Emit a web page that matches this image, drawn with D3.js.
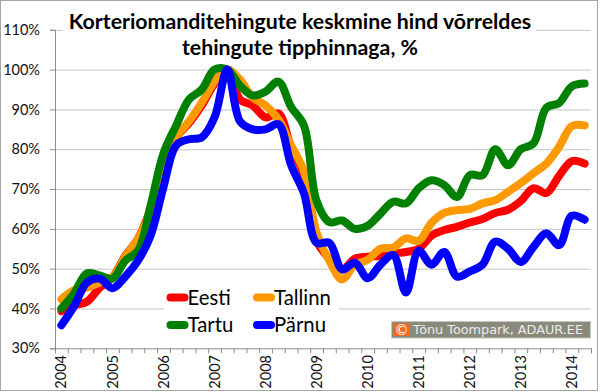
<!DOCTYPE html>
<html>
<head>
<meta charset="utf-8">
<script src="https://cdn.jsdelivr.net/npm/d3@7"></script>
<style>
 body { margin: 0; background: #fff; }
 text { font-family: Lato, "Noto Sans", sans-serif; }
</style>
</head>
<body>
<script>
const width = 600;
const height = 392;

// quarterly data, 2004 I ... 2014 II
const years = [2004, 2005, 2006, 2007, 2008, 2009, 2010, 2011, 2012, 2013, 2014];
const quarters = years.flatMap(y => [1, 2, 3, 4].map(q => y + "-" + q)).slice(0, 42);
const yTicks = [30, 40, 50, 60, 70, 80, 90, 100, 110];

const eesti = [39.3, 40.8, 41.7, 45.2, 47.8, 53.2, 57.5, 65, 75.5, 83, 86.5, 91, 96.5, 100,
 92.5, 91, 88, 89, 80.5, 73.5, 57, 52.5, 49.8, 52.5, 53, 53.2, 53.8, 54.2, 55, 58.3,
 59.7, 60.5, 61.6, 62.5, 64, 64.8, 67, 70.2, 69, 73.3, 77, 76.4];
const tallinn = [42.3, 44.6, 45.2, 46.5, 47.9, 53, 57.5, 64.5, 75.5, 83, 87, 91.7, 97, 100,
 97.5, 93, 91, 87.5, 81, 74.5, 59, 52, 47.3, 51, 52.2, 55, 55.3, 57.6, 57, 61.5,
 64, 64.7, 65, 66.4, 67.2, 69.3, 71.5, 74, 76.4, 80.6, 85.8, 86];
const tartu = [40, 43.8, 48.8, 48.3, 47.5, 52, 54.5, 66, 79, 86, 92.5, 95, 100, 100,
 96, 93.5, 94.5, 97, 90.6, 86, 67, 61.7, 62.1, 60, 60.8, 63.8, 66.8, 66.4, 70.2, 72.2,
 71, 68, 73.5, 73.5, 80, 76, 80, 81.5, 90.4, 91.6, 95.8, 96.5];
const parnu = [35.8, 40.6, 46.5, 47.5, 45.1, 48, 52, 58.4, 70.5, 81, 82.5, 83, 88, 100,
 87, 85, 85, 86.3, 76, 69, 56.5, 56.5, 49.8, 51.5, 47.6, 51, 53.4, 44, 54.5, 51,
 54.2, 48, 49.3, 51, 56.8, 55, 51.7, 55.5, 58.9, 55.9, 63.3, 62.3];

const seriesNames = ["Eesti", "Tallinn", "Tartu", "Pärnu"];
const seriesColors = ["#ff0000", "#ff9900", "#008000", "#0000ff"];
const seriesValues = [eesti, tallinn, tartu, parnu];

const plotLeft = 55, plotRight = 591, plotTop = 29.8, plotBottom = 348.3;

const svg = d3.select("body").append("svg")
  .attr("width", width)
  .attr("height", height);

svg.append("rect")
  .attr("x", 0.5).attr("y", 0.5)
  .attr("width", 597).attr("height", 390)
  .attr("fill", "#fff")
  .attr("stroke", "#a6a6a6");

const x = d3.scaleBand().domain(quarters).range([plotLeft, plotRight]);
const xIdx = d3.scaleLinear().domain([0, quarters.length]).range([plotLeft, plotRight]);
const y = d3.scaleLinear().domain([30, 110]).range([plotBottom, plotTop]);

// gridlines
svg.append("g")
  .attr("transform", `translate(${plotLeft},0)`)
  .call(d3.axisLeft(y).tickValues(yTicks.slice(1)).tickSize(-(plotRight - plotLeft)).tickFormat(""))
  .call(g => g.select(".domain").remove())
  .call(g => g.selectAll("line").attr("stroke", "#c4c4c4"));

// y axis
svg.append("g")
  .attr("transform", `translate(${plotLeft},0)`)
  .call(d3.axisLeft(y).tickValues(yTicks).tickSize(5).tickPadding(10).tickFormat(d => d + "%"))
  .call(g => g.select(".domain").attr("stroke", "#8c8c8c"))
  .call(g => g.selectAll("line").attr("stroke", "#8c8c8c"))
  .call(g => g.selectAll("text").attr("font-size", 14.5).attr("fill", "#111")
    .style("font-family", "Lato"));

// x axis
svg.append("g")
  .attr("transform", `translate(0,${plotBottom})`)
  .call(d3.axisBottom(xIdx).tickValues(d3.range(0, quarters.length + 1)).tickSize(5).tickFormat(""))
  .call(g => g.select(".domain").attr("stroke", "#8c8c8c"))
  .call(g => g.selectAll("line").attr("stroke", "#8c8c8c"));

svg.append("g")
  .selectAll("text")
  .data(quarters.filter(q => q.endsWith("-1")))
  .join("text")
    .attr("transform", d => `translate(${x(d) + x.bandwidth() / 2},355) rotate(-90)`)
    .attr("text-anchor", "end")
    .attr("dy", "0.35em")
    .attr("font-size", 14.5)
    .attr("fill", "#111")
    .text(d => d.split("-")[0]);

// title
svg.append("rect")
  .attr("x", 63).attr("y", 6)
  .attr("width", 473).attr("height", 58)
  .attr("fill", "#fff");

const title = svg.append("text")
  .attr("text-anchor", "middle")
  .attr("font-weight", "bold")
  .attr("font-size", 21.3)
  .attr("fill", "#000");
title.append("tspan").attr("x", 300).attr("y", 28.5).text("Korteriomanditehingute keskmine hind võrreldes");
title.append("tspan").attr("x", 300).attr("y", 55).text("tehingute tipphinnaga, %");

// lines
const line = d3.line()
  .x((d, i) => x(quarters[i]) + x.bandwidth() / 2)
  .y(d => y(d))
  .curve(d3.curveCatmullRom.alpha(0.5));

svg.append("g")
  .selectAll("path")
  .data(seriesValues)
  .join("path")
    .attr("d", d => line(d))
    .attr("fill", "none")
    .attr("stroke", (d, i) => seriesColors[i])
    .attr("stroke-width", 8)
    .attr("stroke-linejoin", "round")
    .attr("stroke-linecap", "round");

// legend
svg.append("rect")
  .attr("x", 164).attr("y", 285)
  .attr("width", 175).attr("height", 57)
  .attr("fill", "#fff");

const legendPos = [[170.5, 297.5], [257, 297.5], [170.5, 325], [257, 325]];
const legend = svg.append("g")
  .selectAll("g")
  .data(seriesNames)
  .join("g")
    .attr("transform", (d, i) => `translate(${legendPos[i][0]},${legendPos[i][1]})`);

legend.append("line")
  .attr("x1", 0).attr("x2", 14)
  .attr("stroke", (d, i) => seriesColors[i])
  .attr("stroke-width", 8)
  .attr("stroke-linecap", "round");

legend.append("text")
  .attr("x", 17)
  .attr("y", 7)
  .attr("font-size", 20.3)
  .attr("fill", "#000")
  .text(d => d);

// copyright box
const copy = svg.append("g");
copy.append("rect")
  .attr("x", 391.5).attr("y", 321.5)
  .attr("width", 199).attr("height", 16.5)
  .attr("fill", "#8a8a7c")
  .attr("stroke", "#c8c8c0");
copy.append("rect")
  .attr("x", 393.5).attr("y", 323.5)
  .attr("width", 16).attr("height", 12.5)
  .attr("fill", "#f26a1b");
copy.append("text")
  .attr("x", 401.5).attr("y", 334.5)
  .attr("text-anchor", "middle")
  .attr("font-size", 14)
  .attr("fill", "#fff")
  .style("font-family", "DejaVu Sans")
  .text("©");
copy.append("text")
  .attr("x", 413).attr("y", 334.3)
  .attr("font-size", 12.8)
  .attr("fill", "#ececec")
  .style("font-family", "DejaVu Sans")
  .text("Tõnu Toompark, ADAUR.EE");
</script>
</body>
</html>
